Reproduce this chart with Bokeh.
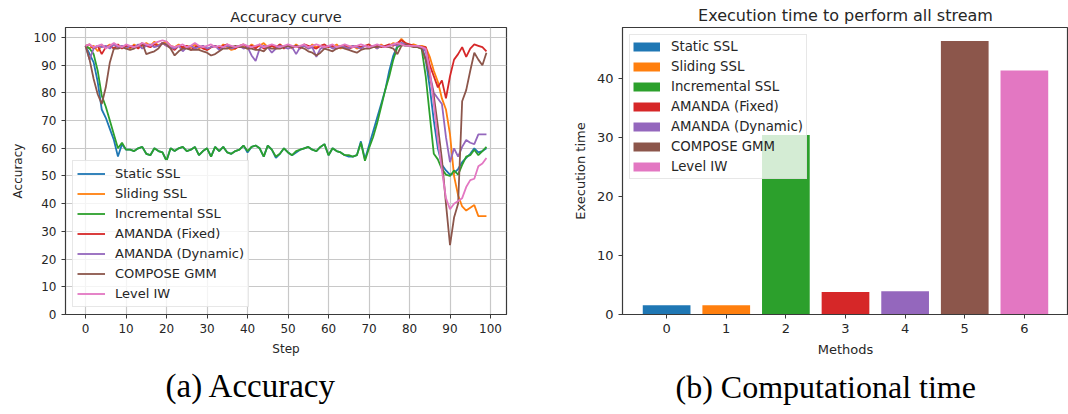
from bokeh.plotting import figure
from bokeh.layouts import row
from bokeh.models import Range1d, FixedTicker, Legend, LegendItem, Title, ColumnDataSource
from bokeh.embed import file_html
from bokeh.resources import INLINE

# ---------------- data ----------------
steps = list(range(100))
method_names = ["Static SSL", "Sliding SSL", "Incremental SSL", "AMANDA (Fixed)",
                "AMANDA (Dynamic)", "COMPOSE GMM", "Level IW"]
colors = ["#1f77b4", "#ff7f0e", "#2ca02c", "#d62728", "#9467bd", "#8c564b", "#e377c2"]

static_ssl = [97, 94, 91, 84, 74, 71, 67, 63, 57, 61.5,
              59.5, 59.5, 59, 60, 60.5, 58, 57.5, 60, 59, 58.5,
              55.5, 60, 59, 60, 60.5, 59, 59.5, 60.5, 57.5, 59,
              60, 57, 60.5, 59, 60.5, 58.5, 58, 59, 59.5, 61,
              58.5, 60.5, 61, 60, 57, 61, 59.5, 56.5, 58, 60,
              58.5, 57.5, 58.5, 59.5, 60, 60.5, 59.5, 59, 60.5, 61.5,
              57.5, 60, 59, 58.5, 57.5, 57, 57, 57.5, 62.5, 56,
              61, 66, 71, 76, 81, 88, 93.5, 97, 98, 97.5,
              97, 97, 97, 97, 92, 82, 70, 60, 54, 52,
              50.5, 51, 52.5, 55, 56.5, 58, 60, 58.5, 59, 60]
sliding_ssl = [97, 96, 97, 95, 97, 96.5, 97.5, 96, 97, 96.5,
               97, 96, 97.5, 96.5, 97, 98, 97, 98.5, 97, 98,
               98.5, 97, 96.5, 97.5, 96, 97, 96.5, 97.5, 96, 97,
               95.5, 96.5, 97, 96, 97.5, 96.5, 95.5, 96, 97, 96.5,
               96, 97.5, 96.5, 97, 98, 96.5, 97, 96, 97.5, 96.5,
               97, 96, 97.5, 96.5, 97, 96, 97.5, 96.5, 97, 96,
               97, 96.5, 97.5, 96, 97, 96.5, 97, 96, 96.5, 97,
               96.5, 97, 96, 97.5, 96.5, 97, 98, 97.5, 99.5, 98,
               97, 97.5, 97, 97, 96.5, 93, 88, 84, 78, 74,
               65, 50, 43, 39, 37.5, 38.5, 39.5, 35.5, 35.5, 35.5]
incremental_ssl = [97, 96, 94, 88, 79, 75, 70, 65, 60, 62,
                   59.5, 59.5, 59, 60, 60.5, 58, 57.5, 60, 59, 58.5,
                   55.5, 60, 59, 60, 60.5, 59, 59.5, 60.5, 57.5, 59,
                   60, 57, 60.5, 59, 60.5, 58.5, 58, 59, 59.5, 61,
                   59, 60.5, 61, 60, 57, 61, 59.5, 57, 58, 60,
                   58.5, 57.5, 59, 59.5, 60, 60.5, 59.5, 59, 60.5, 61.5,
                   57.5, 60, 59, 58.5, 57.5, 57.5, 57, 57.5, 62, 55.5,
                   60, 64, 69, 75, 81, 86, 92, 96.5, 97.5, 97,
                   97, 97, 96.5, 96, 86, 72, 58, 56, 52.5, 50.5,
                   50, 52, 50.5, 54, 57, 57.5, 59.5, 57.5, 59, 60.5]
amanda_fixed = [97, 97.5, 96, 97, 94, 96.5, 97, 96, 97.5, 96,
                97, 96.5, 97, 96, 97.5, 97, 96.5, 97.5, 97, 98,
                97, 96.5, 95.5, 97, 96.5, 97, 95.5, 96.5, 97, 96,
                95.5, 96.5, 97, 96, 97, 97.5, 96.5, 96, 97, 97.5,
                96.5, 97, 96, 97.5, 96, 96.5, 97, 96.5, 97.5, 96,
                97, 96.5, 97, 96, 97.5, 97, 96.5, 96, 97, 97.5,
                96.5, 97, 96, 96.5, 97, 96, 96.5, 97, 96.5, 97,
                97.5, 96.5, 97, 96.5, 97, 97.5, 97, 98, 99, 98,
                97.5, 97, 97, 96.5, 96.5, 90, 86, 82, 84.5, 78,
                86, 92, 94, 96.5, 93, 96, 97.5, 97, 96.5, 95]
amanda_dynamic = [97, 92, 96, 97, 96.5, 97, 96, 97.5, 96.5, 97,
                  96, 97, 96.5, 97.5, 96, 97, 97.5, 96.5, 97, 98,
                  97, 96.5, 96, 97, 95, 96.5, 97, 96, 96.5, 97,
                  96, 96.5, 97, 95.5, 96.5, 97, 96, 96.5, 97, 96,
                  96.5, 93.5, 91.5, 96, 97, 96.5, 94.5, 96, 97, 96.5,
                  96, 96.5, 94, 96.5, 97, 96, 96.5, 93, 96, 96.5,
                  97, 96, 96.5, 97, 96.5, 96, 97, 96.5, 96, 97,
                  96.5, 97, 96, 97, 96.5, 97, 97.5, 97, 98, 97.5,
                  97, 97, 97, 96.5, 95, 87, 80, 78, 76, 64,
                  55, 60, 57, 60.5, 63, 62, 61.5, 65, 65, 65]
compose_gmm = [97, 92, 85, 79.5, 76, 82, 91, 96, 96, 96.5,
               96, 95.5, 96, 97, 98, 94, 94.5, 95, 96, 98,
               97.5, 96, 93.5, 95, 96, 96, 95.5, 95.5, 95.5, 95,
               94.5, 93.5, 94, 95, 96, 96, 96.5, 97, 96.5, 96.5,
               96, 96, 95.5, 95.5, 95, 96.5, 96, 96, 96, 96.5,
               97, 96.5, 97, 96.5, 96, 95, 94.5, 93.5, 94.5, 96,
               95.5, 95, 96, 96.5, 96, 95.5, 95, 94.5, 95.5, 96,
               96, 96.5, 96.5, 97, 96.5, 96.5, 96, 94, 97, 97.5,
               97, 96.5, 96.5, 96, 92, 86, 79, 68, 56, 40,
               25, 35, 40, 77, 81, 88, 94.5, 92, 90, 94.5]
level_iw = [97, 97.5, 96.5, 97, 97.5, 96, 97, 98, 97, 96.5,
            97.5, 97, 96.5, 97, 98, 97.5, 97, 98, 98.5, 99,
            98.5, 97, 96.5, 97, 97.5, 96.5, 97, 98, 97, 96.5,
            97, 97.5, 96.5, 97, 96.5, 97.5, 97, 96.5, 97, 97.5,
            97, 96.5, 97, 97.5, 96.5, 97, 97.5, 97, 96.5, 97,
            97.5, 97, 96.5, 97, 97.5, 96.5, 97, 97.5, 97, 96.5,
            97, 97.5, 96.5, 97, 97.5, 97, 96.5, 97, 97.5, 97,
            96.5, 97, 97.5, 97, 96.5, 97, 97.5, 98, 97.5, 97,
            97, 97, 97, 96.5, 96, 88, 76, 63, 52, 42,
            38, 40, 41, 42, 46, 48.5, 49, 53.5, 54.5, 56.5]

accuracy_series = [static_ssl, sliding_ssl, incremental_ssl, amanda_fixed,
                   amanda_dynamic, compose_gmm, level_iw]

method_index = [0, 1, 2, 3, 4, 5, 6]
execution_time = [1.55, 1.55, 30.4, 3.8, 3.95, 46.3, 41.3]

acc_ticks = [0, 10, 20, 30, 40, 50, 60, 70, 80, 90, 100]
step_ticks = [0, 10, 20, 30, 40, 50, 60, 70, 80, 90, 100]
time_ticks = [0, 10, 20, 30, 40]

TXT = "#262626"
FRAME = "#3a3a3a"
FONT = "DejaVu Sans"


def style_axes(p, tick_size, label_size):
    for ax in (p.xaxis[0], p.yaxis[0]):
        ax.axis_line_color = FRAME
        ax.major_tick_line_color = FRAME
        ax.major_tick_out = 4
        ax.major_tick_in = 0
        ax.minor_tick_line_color = None
        ax.major_label_text_font = FONT
        ax.major_label_text_font_size = tick_size
        ax.major_label_text_color = TXT
        ax.axis_label_text_font = FONT
        ax.axis_label_text_font_size = label_size
        ax.axis_label_text_font_style = "normal"
        ax.axis_label_text_color = TXT
        ax.major_label_standoff = 5
        ax.axis_label_standoff = 6
    p.outline_line_color = FRAME
    p.outline_line_width = 1.2
    p.background_fill_color = "white"
    p.border_fill_color = "white"


# ---------------- left: accuracy curve ----------------
p1 = figure(width=540, height=414, output_backend="svg", toolbar_location=None,
            x_range=Range1d(-4.95, 103.95), y_range=Range1d(0, 103.6),
            min_border_left=65, min_border_right=34, min_border_top=27,
            min_border_bottom=100)
p1.title.text = "Accuracy curve"
p1.title.align = "center"
p1.title.text_font = FONT
p1.title.text_font_size = "14.5px"
p1.title.text_font_style = "normal"
p1.title.text_color = TXT
p1.title.standoff = 6

style_axes(p1, "12px", "12px")
p1.xaxis.ticker = FixedTicker(ticks=step_ticks)
p1.yaxis.ticker = FixedTicker(ticks=acc_ticks)
p1.xaxis.axis_label = "Step"
p1.yaxis.axis_label = "Accuracy"
p1.xgrid.grid_line_color = "#c8c8c8"
p1.ygrid.grid_line_color = "#c8c8c8"
p1.xgrid.grid_line_width = 1.2
p1.ygrid.grid_line_width = 1.2

items1 = []
for name, col, ys in zip(method_names, colors, accuracy_series):
    r = p1.line(steps, ys, line_color=col, line_width=1.8)
    items1.append(LegendItem(label=name, renderers=[r]))

leg1 = Legend(items=items1, location="bottom_left", margin=7, padding=4,
              spacing=3, glyph_height=17, label_height=17, glyph_width=28,
              label_standoff=10, label_text_font=FONT, label_text_font_size="13px",
              label_text_color=TXT, background_fill_color="white",
              background_fill_alpha=0.8, border_line_color="#d0d0d0",
              border_line_width=1)
p1.add_layout(leg1)

p1.add_layout(Title(text="(a) Accuracy", align="left", offset=100,
                    text_font="Liberation Serif", text_font_size="33px",
                    text_font_style="normal", text_color="black", standoff=14), "below")

# ---------------- right: execution time ----------------
p2 = figure(width=528, height=414, output_backend="svg", toolbar_location=None,
            x_range=Range1d(-0.74, 6.74), y_range=Range1d(0, 48.6),
            min_border_left=82, min_border_right=0, min_border_top=24,
            min_border_bottom=97)
p2.title.text = "Execution time to perform all stream"
p2.title.align = "center"
p2.title.text_font = FONT
p2.title.text_font_size = "16px"
p2.title.text_font_style = "normal"
p2.title.text_color = TXT
p2.title.standoff = 5

style_axes(p2, "13px", "13px")
p2.xaxis.ticker = FixedTicker(ticks=method_index)
p2.yaxis.ticker = FixedTicker(ticks=time_ticks)
p2.xaxis.axis_label = "Methods"
p2.yaxis.axis_label = "Execution time"
p2.grid.visible = False

src = ColumnDataSource(dict(x=method_index, top=execution_time, color=colors))
p2.vbar(x="x", top="top", width=0.8, bottom=0, fill_color="color", line_color=None, source=src)

# legend swatches: thick line proxies (no visible data point)
items2 = []
for name, col in zip(method_names, colors):
    proxy = p2.line(x=[0.0], y=[float("nan")], line_color=col, line_width=9)
    items2.append(LegendItem(label=name, renderers=[proxy]))

leg2 = Legend(items=items2, location="top_left", margin=7, padding=3,
              spacing=3, glyph_height=17, label_height=17, glyph_width=27,
              label_standoff=11, label_text_font=FONT, label_text_font_size="13.3px",
              label_text_color=TXT, background_fill_color="white",
              background_fill_alpha=0.8, border_line_color="#d0d0d0",
              border_line_width=1)
p2.add_layout(leg2)

p2.add_layout(Title(text="(b) Computational time", align="left", offset=53,
                    text_font="Liberation Serif", text_font_size="32px",
                    text_font_style="normal", text_color="black", standoff=14), "below")

layout = row(p1, p2)
open("out.html", "w").write(file_html(layout, INLINE))
